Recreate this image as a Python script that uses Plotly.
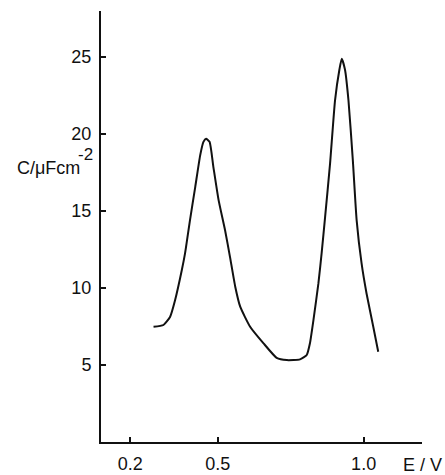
import plotly.graph_objects as go

# Differential capacitance vs electrode potential
potential_v = [0.280, 0.314, 0.337, 0.354, 0.377, 0.388, 0.405, 0.423, 0.440, 0.451,
               0.460, 0.472, 0.485, 0.503, 0.525, 0.542, 0.560, 0.577, 0.611, 0.657,
               0.702, 0.737, 0.782, 0.805, 0.816, 0.828, 0.845, 0.856, 0.868, 0.885,
               0.902, 0.917, 0.925, 0.936, 0.948, 0.963, 0.976, 0.993, 1.010, 1.033,
               1.050]
capacitance = [7.49, 7.60, 8.14, 9.22, 11.17, 12.25, 14.42, 16.58, 18.64, 19.5,
               19.7, 19.5, 17.88, 15.71, 13.77, 12.03, 10.09, 8.79, 7.49, 6.41,
               5.47, 5.32, 5.37, 5.65, 6.41, 7.92, 10.3, 12.25, 14.63, 18.1,
               22.2, 24.2, 24.9, 24.2, 22.2, 18.3, 14.42, 11.6, 9.65, 7.49,
               5.86]

x_ticks = [0.2, 0.5, 1.0]
x_tick_labels = ["0.2", "0.5", "1.0"]
y_ticks = [5, 10, 15, 20, 25]
y_tick_labels = ["5", "10", "15", "20", "25"]

FONT = "Liberation Sans, Arial, sans-serif"
INK = "#111111"

fig = go.Figure()
fig.add_trace(go.Scatter(
    x=potential_v, y=capacitance, mode="lines",
    line=dict(color=INK, width=2, shape="spline", smoothing=0.5),
    hoverinfo="skip", showlegend=False,
))

axis_common = dict(
    showgrid=False, zeroline=False, showline=True, linecolor=INK,
    linewidth=2, ticks="inside", ticklen=5, tickwidth=1.5, tickcolor=INK,
    tickfont=dict(family=FONT, size=18, color=INK), automargin=False,
)

fig.update_layout(
    width=445, height=475,
    margin=dict(l=101, r=23, t=11, b=33),
    paper_bgcolor="white", plot_bgcolor="white",
    xaxis=dict(range=[0.1, 1.2], tickvals=x_ticks, ticktext=x_tick_labels,
               ticklabelstandoff=4, **axis_common),
    yaxis=dict(range=[0, 28], tickvals=y_ticks, ticktext=y_tick_labels,
               ticklabelstandoff=4, **axis_common),
    annotations=[
        dict(text="E / V", xref="paper", yref="paper", x=1.0, y=0,
             xanchor="center", yanchor="middle", yshift=-23, showarrow=False,
             font=dict(family=FONT, size=18, color=INK)),
        dict(text="C/μFcm", xref="paper", yref="y", x=0, y=17.8,
             xanchor="right", yanchor="middle", xshift=-19, showarrow=False,
             font=dict(family=FONT, size=18, color=INK)),
        dict(text="-2", xref="paper", yref="y", x=0, y=18.7,
             xanchor="right", yanchor="middle", xshift=-6, showarrow=False,
             font=dict(family=FONT, size=17, color=INK)),
    ],
)

fig.write_html("out.html")
